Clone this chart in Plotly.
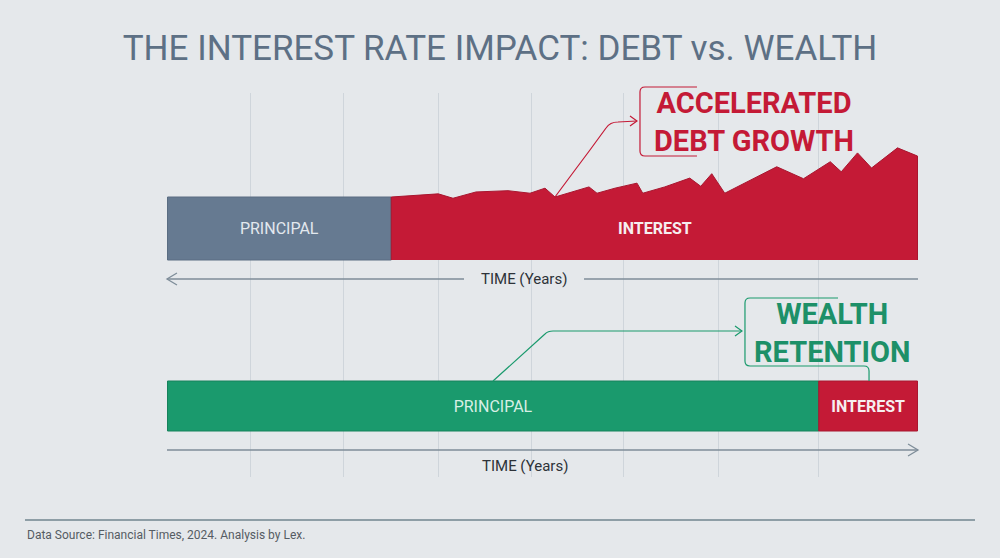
import plotly.graph_objects as go

# ---------------------- data ----------------------
total_years = 30
grid_years = [0, 3.32, 7.03, 10.83, 14.54, 18.22, 22.05, 26.05, 30]

# high interest credit card: principal block, then a jagged growing balance
card_principal_end = 8.95
debt_years = [8.95, 10.83, 11.42, 12.34, 13.62, 14.50, 15.10, 15.50, 16.42, 16.86,
              17.18, 17.90, 18.78, 19.01, 19.89, 20.89, 21.33, 21.77, 22.29, 24.37,
              25.44, 26.51, 26.95, 27.60, 28.16, 29.20, 30.0]
debt_index = [100, 105, 98, 108, 110, 106, 114, 100, 111, 116,
              106, 114, 122, 106, 116, 130, 117, 137, 106, 148,
              129, 156, 140, 170, 146, 178, 165]

# strategic repayment: mostly principal, small interest tail
repay_principal_end = 26.05

rows = ['HIGH INTEREST<br>CREDIT CARD', 'STRATEGIC<br>REPAYMENT']

# ---------------------- styling ----------------------
BG = '#e5e8eb'
SLATE = '#667a91'
RED = '#c41a36'
GREEN = '#1a9a6d'
GRID = '#cfd5db'
AXIS = '#7e8d99'
DARK = '#2d3238'

W, H = 1000, 558
L, R, T, B = 167, 918, 93, 477   # plot area in page pixels

# y axis: 1 unit = 1 px above the plot bottom
card_base = 217
card_scale = 0.63          # px per index point
card_center = card_base + 100 * card_scale / 2
card_height = 100 * card_scale
repay_center = 71
repay_height = 50


def P(x, y):
    # page pixel -> paper coords for decorative paths
    return f'{(x - L) / (R - L):.4f},{(B - y) / (B - T):.4f}'


def X(x):
    return (x - L) / (R - L) * total_years


fig = go.Figure()

fig.add_trace(go.Bar(
    orientation='h', y=[card_center], x=[card_principal_end], base=[0],
    width=[card_height], marker=dict(color=SLATE, line=dict(color='#5a6d82', width=1)),
    text=['PRINCIPAL'], textposition='inside', insidetextanchor='middle',
    textfont=dict(color='#e2e8ee', size=16, family='Roboto'), hoverinfo='skip'))

fig.add_trace(go.Scatter(
    x=[card_principal_end] + debt_years + [total_years],
    y=[card_base] + [card_base + v * card_scale for v in debt_index] + [card_base],
    fill='toself', fillcolor=RED, mode='lines',
    line=dict(color='#a8162f', width=1), hoverinfo='skip'))

fig.add_trace(go.Bar(
    orientation='h', y=[repay_center], x=[repay_principal_end], base=[0],
    width=[repay_height], marker=dict(color=GREEN, line=dict(color='#16825c', width=1)),
    text=['PRINCIPAL'], textposition='inside', insidetextanchor='middle',
    textfont=dict(color='#d8efe5', size=16, family='Roboto'), hoverinfo='skip'))

fig.add_trace(go.Bar(
    orientation='h', y=[repay_center], x=[total_years - repay_principal_end],
    base=[repay_principal_end], width=[repay_height],
    marker=dict(color=RED, line=dict(color='#a8162f', width=1)),
    text=['<b>INTEREST</b>'], textposition='inside', insidetextanchor='middle',
    textfont=dict(color='#f6eef0', size=16, family='Roboto'), hoverinfo='skip'))

ann = []
ann.append(dict(x=X(655), y=card_center, xref='x', yref='y', text='<b>INTEREST</b>',
                showarrow=False, font=dict(color='#f6eef0', size=16, family='Roboto')))

# row labels
for text, yc in zip(rows, [card_center, repay_center + 3]):
    ann.append(dict(x=X(160), y=yc, xref='x', yref='y', text=text, xanchor='right',
                    align='right', showarrow=False,
                    font=dict(color=DARK, size=16, family='Roboto')))

# time axes labels
ann.append(dict(x=X(524), y=B - 279, xref='x', yref='y', text='TIME (Years)', showarrow=False,
                font=dict(color=DARK, size=15, family='Roboto')))
ann.append(dict(x=X(525), y=B - 466, xref='x', yref='y', text='TIME (Years)', showarrow=False,
                font=dict(color=DARK, size=15, family='Roboto')))

# callouts
ann.append(dict(x=X(754), y=B - 122, xref='x', yref='y',
                text='<b>ACCELERATED<br>DEBT GROWTH</b>', showarrow=False, align='center',
                font=dict(color=RED, size=29, family='Roboto')))
ann.append(dict(x=X(832), y=B - 333, xref='x', yref='y',
                text='<b>WEALTH<br>RETENTION</b>', showarrow=False, align='center',
                font=dict(color='#1d9068', size=29, family='Roboto')))

# footer
ann.append(dict(x=(25 - L) / (R - L), y=(B - 535) / (B - T), xref='paper', yref='paper',
                text='Data Source: Financial Times, 2024. Analysis by Lex.', xanchor='left',
                yanchor='middle', showarrow=False,
                font=dict(color='#555c63', size=12, family='Roboto')))

shapes = []


def path(d, color, width=1.3):
    shapes.append(dict(type='path', path=d, xref='paper', yref='paper',
                       line=dict(color=color, width=width), layer='above'))


# top time axis: arrow pointing left, broken around the label
path(f'M{P(167, 279)} L{P(464, 279)}', AXIS)
path(f'M{P(584, 279)} L{P(918, 279)}', AXIS)
path(f'M{P(177, 273)} L{P(167, 279)} L{P(177, 285)}', AXIS)
# bottom time axis: arrow pointing right
path(f'M{P(167, 450)} L{P(918, 450)}', AXIS)
path(f'M{P(908, 444)} L{P(918, 450)} L{P(908, 456)}', AXIS)

# red callout: line from the dip up to the bracket
path(f'M{P(555, 197)} L{P(575, 170)} L{P(590, 150)} L{P(606, 128)} '
     f'Q{P(610, 122)} {P(618, 122)} L{P(637, 121)}', RED, 1.2)
path(f'M{P(630, 116)} L{P(637, 121)} L{P(630, 126)}', RED, 1.2)
path(f'M{P(697, 87)} L{P(645, 87)} Q{P(640, 87)} {P(640, 92)} L{P(640, 151)} '
     f'Q{P(640, 156)} {P(645, 156)} L{P(697, 156)}', RED, 1.2)

# green callout
path(f'M{P(493, 381)} L{P(545, 334)} Q{P(548, 331)} {P(553, 331)} L{P(742, 331)}', GREEN, 1.2)
path(f'M{P(735, 326)} L{P(742, 331)} L{P(735, 336)}', GREEN, 1.2)
path(f'M{P(838, 298)} L{P(750, 298)} Q{P(745, 298)} {P(745, 303)} L{P(745, 361)} '
     f'Q{P(745, 366)} {P(750, 366)} L{P(864, 366)} Q{P(869, 366)} {P(869, 371)} '
     f'L{P(869, 381)}', GREEN, 1.2)

# footer rule
path(f'M{P(25, 520)} L{P(975, 520)}', '#8e9ea6', 2)

fig.update_layout(
    width=W, height=H,
    margin=dict(l=L, r=W - R, t=T, b=H - B),
    paper_bgcolor=BG, plot_bgcolor=BG,
    showlegend=False, barmode='overlay',
    title=dict(text='THE INTEREST RATE IMPACT: DEBT vs. WEALTH', x=0.5, xanchor='center',
               xref='container', y=1 - 48 / H, yref='container', yanchor='middle',
               font=dict(color='#5d7085', size=35, family='Roboto')),
    # tiny padding so the edge gridlines are still drawn
    xaxis=dict(range=[-0.02, total_years + 0.02], tickvals=grid_years, showgrid=True,
               gridcolor=GRID, gridwidth=1, showticklabels=False, ticks='', zeroline=False,
               showline=False, fixedrange=True),
    yaxis=dict(range=[0, B - T], visible=False, fixedrange=True),
    annotations=ann, shapes=shapes,
)

fig.write_html('out.html', config={'displayModeBar': False},
               post_script="document.body.style.margin='0';")
